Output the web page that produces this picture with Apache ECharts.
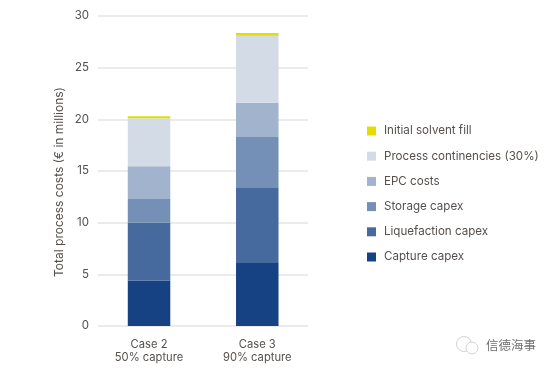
<!DOCTYPE html>
<html>
<head>
<meta charset="utf-8">
<style>
  html, body { margin: 0; padding: 0; background: #fff; }
  #main { width: 554px; height: 371px; }
</style>
</head>
<body>
<div id="main"></div>
<script src="https://cdn.jsdelivr.net/npm/echarts@6/dist/echarts.min.js"></script>
<script>
var categories = ['Case 2\n50% capture', 'Case 3\n90% capture'];
var yTicks = [0, 5, 10, 15, 20, 25, 30];
var seriesNames = ['Capture capex', 'Liquefaction capex', 'Storage capex', 'EPC costs', 'Process continencies (30%)', 'Initial solvent fill'];
var seriesColors = ['#164284', '#46699e', '#7490b7', '#a2b3cd', '#d3dbe7', '#e2de00'];
var captureCapex = [4.4, 6.1];
var liquefactionCapex = [5.6, 7.25];
var storageCapex = [2.3, 4.95];
var epcCosts = [3.15, 3.3];
var contingencies = [4.65, 6.5];
var solventFill = [0.2, 0.25];
var seriesValues = [captureCapex, liquefactionCapex, storageCapex, epcCosts, contingencies, solventFill];

var textColor = '#55504c';
var fontName = 'Inter';
var yMax = yTicks[yTicks.length - 1];

var chart = echarts.init(document.getElementById('main'));
chart.setOption({
  animation: false,
  color: seriesColors,
  textStyle: { fontFamily: fontName },
  // grid 0 holds the bars, grid 1 the y axis and gridlines, which are a little narrower than the bar bands
  grid: [
    { left: 94.9, right: 242.6, top: 16, bottom: 45 },
    { left: 98, right: 246, top: 16, bottom: 45, z: 0 }
  ],
  legend: {
    orient: 'vertical',
    left: 362,
    top: 119,
    itemWidth: 9,
    itemHeight: 9,
    itemGap: 11.2,
    icon: 'rect',
    data: seriesNames.slice().reverse(),
    textStyle: { color: textColor, fontSize: 11.6, fontFamily: fontName, padding: [0, 0, 0, 3], height: 14, lineHeight: 14 }
  },
  xAxis: [
    {
      type: 'category',
      gridIndex: 0,
      data: categories,
      axisTick: { show: false },
      axisLine: { show: false },
      axisLabel: { color: textColor, fontSize: 11.2, lineHeight: 13, margin: 12, fontFamily: fontName }
    },
    { type: 'value', gridIndex: 1, min: 0, max: 1, show: false }
  ],
  yAxis: [
    { type: 'value', gridIndex: 0, min: 0, max: yMax, show: false },
    {
      type: 'value',
      gridIndex: 1,
      min: 0,
      max: yMax,
      interval: 5,
      name: 'Total process costs (€ in millions)',
      nameLocation: 'middle',
      nameGap: 33,
      nameTextStyle: { color: textColor, fontSize: 12, fontFamily: fontName, padding: [0, 22, 0, 0] },
      axisLabel: { color: textColor, fontSize: 11.5, margin: 9, fontFamily: fontName },
      axisLine: { show: false },
      axisTick: { show: false },
      splitLine: { lineStyle: { color: '#e4e4e4', width: 1.5 } }
    }
  ],
  series: seriesNames.map(function (name, i) {
    return {
      name: name,
      type: 'bar',
      stack: 'total',
      xAxisIndex: 0,
      yAxisIndex: 0,
      z: 3,
      barWidth: 42.5,
      data: seriesValues[i]
    };
  }),
  graphic: [
    { type: 'circle', shape: { cx: 464, cy: 344, r: 7.5 }, style: { fill: '#fff', stroke: '#d2d2d2', lineWidth: 1 } },
    { type: 'circle', shape: { cx: 472, cy: 348, r: 6 }, style: { fill: '#fff', stroke: '#d2d2d2', lineWidth: 1 } },
    { type: 'text', left: 486, top: 339, style: { text: '信德海事', fill: '#707070', font: '12.5px "Noto Sans CJK TC"' } }
  ]
});
</script>
</body>
</html>
